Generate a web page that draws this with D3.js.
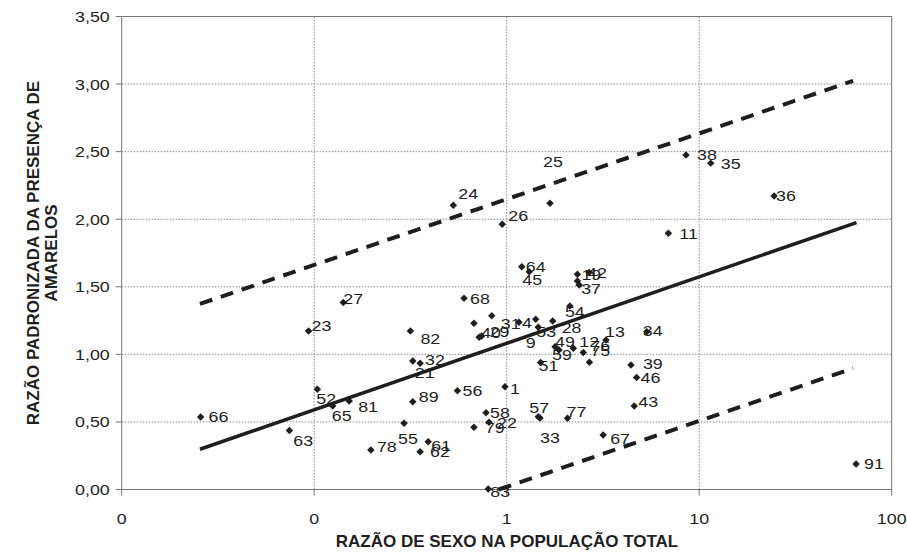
<!DOCTYPE html>
<html>
<head>
<meta charset="utf-8">
<script src="https://cdn.jsdelivr.net/npm/d3@7"></script>
<style>
  html, body { margin: 0; padding: 0; background: #fff; }
  svg { display: block; font-family: "Liberation Sans", Arial, sans-serif; }
</style>
</head>
<body>
<div id="chart"></div>
<script>
// municipality ids (blank = point without a visible label)
const ids = [
  '1', '4', '9', '11', '12', '13', '19', '21', '22', '23',
  '24', '25', '26', '27', '28', '29', '31', '32', '33', '34',
  '35', '36', '37', '38', '39', '40', '42', '43', '45', '46',
  '49', '51', '52', '53', '54', '55', '56', '57', '58', '59',
  '61', '62', '63', '64', '65', '66', '67', '68', '75', '76',
  '77', '78', '79', '81', '82', '83', '89', '91', '', '',
];

// razão de sexo na população total (x, log scale)
const sexRatio = [
  0.979, 1.158, 1.415, 6.91, 2.218, 3.28, 2.33, 0.325, 0.809, 0.0935,
  0.528, 1.679, 0.948, 0.1416, 1.733, 0.741, 0.836, 0.355, 1.489, 5.34,
  11.48, 24.5, 2.38, 8.54, 4.42, 0.719, 2.68, 4.60, 1.31, 4.73,
  1.782, 1.50, 0.1038, 1.459, 2.13, 0.293, 0.555, 1.459, 0.781, 1.87,
  0.391, 0.355, 0.0743, 1.197, 0.1248, 0.0257, 3.17, 0.600, 2.69, 2.50,
  2.07, 0.197, 0.676, 0.152, 0.316, 0.802, 0.325, 65.3, 0.676, 2.33,
];

// razão padronizada da presença de amarelos (y)
const yellowRatio = [
  0.761, 1.238, 1.260, 1.896, 1.045, 1.107, 1.593, 0.951, 0.497, 1.173,
  2.104, 2.118, 1.963, 1.383, 1.247, 1.136, 1.286, 0.934, 0.529, 1.168,
  2.415, 2.172, 1.514, 2.476, 0.922, 1.127, 1.606, 0.618, 1.612, 0.829,
  1.057, 0.940, 0.742, 1.201, 1.358, 0.490, 0.731, 0.539, 0.568, 1.033,
  0.354, 0.280, 0.437, 1.649, 0.618, 0.537, 0.403, 1.415, 0.942, 1.013,
  0.527, 0.292, 0.460, 0.655, 1.173, 0.004, 0.650, 0.189, 1.230, 1.543,
];

// fitted line and band (end points)
const fitX = [0.0255, 65.6];
const fitY = [0.298, 1.975];
const upperX = [0.0255, 63.0];
const upperY = [1.373, 3.024];
const lowerX = [0.91, 63.0];
const lowerY = [0.0, 0.897];

const xTickValues = [0.01, 0.1, 1, 10, 100];
const xTickLabels = ['0', '0', '1', '10', '100'];
const yTickValues = [0, 0.5, 1, 1.5, 2, 2.5, 3, 3.5];

// manual label moves (px), as in the original worksheet
const labelShift = {
  '63': [-4, 10], '23': [-5, -5], '27': [-8, -4], '52': [-9, 9], '65': [-9, 10],
  '81': [1, 6], '78': [-2, -3], '55': [-14, 15], '61': [-5, 4], '62': [2, 0],
  '89': [-2, -5], '82': [2, 8], '32': [-3, -4], '21': [-6, 12], '56': [-3, 0],
  '68': [-2, 0], '40': [-6, -5], '29': [0, -4], '31': [1, 8], '4': [-5, 0],
  '64': [-4, 0], '45': [-15, 8], '9': [-18, 23], '53': [-10, 4], '28': [1, 7],
  '54': [-13, 6], '51': [-10, 3], '49': [-8, -5], '59': [-15, 5], '12': [-2, -7],
  '76': [-1, -7], '75': [-7, -12], '13': [-9, -8], '34': [-12, -1], '19': [-4, 0],
  '42': [-10, 0], '37': [-6, 4], '39': [4, -1], '46': [-4, 0], '43': [-4, -4],
  '57': [-17, -9], '33': [-8, 20], '77': [-9, -7], '67': [-1, 4], '1': [-3, 2],
  '58': [-4, 0], '79': [3, 0], '83': [-6, 3], '24': [-3, -12], '26': [-2, -9],
  '25': [-15, -42], '38': [3, 0], '35': [2, 0], '36': [-6, 0], '11': [3, 0],
};

const width = 907;
const height = 554;
const margin = { top: 16.5, right: 15.3, bottom: 64.5, left: 121.7 };
const stretch = 'scale(1.15,1)';
const ink = '#1e1e1e';

const x = d3.scaleLog()
    .domain([0.01, 100])
    .range([margin.left, width - margin.right]);

const y = d3.scaleLinear()
    .domain([0, 3.5])
    .range([height - margin.bottom, margin.top]);

const svg = d3.select('#chart').append('svg')
    .attr('width', width)
    .attr('height', height);

// grid
svg.append('g')
    .selectAll('line')
    .data(yTickValues.slice(1, -1))
  .enter().append('line')
    .attr('x1', x.range()[0]).attr('x2', x.range()[1])
    .attr('y1', d => y(d)).attr('y2', d => y(d))
    .attr('stroke', '#8a8a8a')
    .attr('stroke-dasharray', '1.5,1.5');

svg.append('g')
    .selectAll('line')
    .data(xTickValues.slice(1, -1))
  .enter().append('line')
    .attr('x1', d => x(d)).attr('x2', d => x(d))
    .attr('y1', y.range()[0]).attr('y2', y.range()[1])
    .attr('stroke', '#8a8a8a')
    .attr('stroke-dasharray', '1.5,1.5');

// frame
svg.append('rect')
    .attr('x', x.range()[0])
    .attr('y', y.range()[1])
    .attr('width', x.range()[1] - x.range()[0])
    .attr('height', y.range()[0] - y.range()[1])
    .attr('fill', 'none')
    .attr('stroke', '#777')
    .attr('stroke-width', 1);

// ticks
const yAxis = svg.append('g');
yAxis.selectAll('line')
    .data(yTickValues)
  .enter().append('line')
    .attr('x1', x.range()[0] - 6).attr('x2', x.range()[0])
    .attr('y1', d => y(d)).attr('y2', d => y(d))
    .attr('stroke', '#777');

const fmtY = d => d3.format('.2f')(d).replace('.', ',');
yAxis.selectAll('g.lab')
    .data(yTickValues)
  .enter().append('g')
    .attr('class', 'lab')
    .attr('transform', d => `translate(${x.range()[0] - 12},${y(d)}) ${stretch}`)
  .append('text')
    .attr('text-anchor', 'end')
    .attr('dy', '0.35em')
    .attr('font-size', 15.5)
    .attr('fill', ink)
    .text(fmtY);

const xAxis = svg.append('g');
xAxis.selectAll('line')
    .data(xTickValues)
  .enter().append('line')
    .attr('x1', d => x(d)).attr('x2', d => x(d))
    .attr('y1', y.range()[0]).attr('y2', y.range()[0] + 6)
    .attr('stroke', '#777');

xAxis.selectAll('g.lab')
    .data(xTickValues)
  .enter().append('g')
    .attr('class', 'lab')
    .attr('transform', d => `translate(${x(d)},${y.range()[0] + 29}) ${stretch}`)
  .append('text')
    .attr('text-anchor', 'middle')
    .attr('dy', '0.35em')
    .attr('font-size', 15.5)
    .attr('fill', ink)
    .text((d, i) => xTickLabels[i]);

// axis titles
svg.append('text')
    .attr('x', 507)
    .attr('y', height - 13)
    .attr('text-anchor', 'middle')
    .attr('dy', '0.35em')
    .attr('font-size', 17)
    .attr('font-weight', 'bold')
    .attr('fill', ink)
    .text('RAZÃO DE SEXO NA POPULAÇÃO TOTAL');

const yTitle = svg.append('g')
    .attr('transform', `translate(41,${(y.range()[0] + y.range()[1]) / 2}) rotate(-90)`)
  .append('text')
    .attr('text-anchor', 'middle')
    .attr('font-size', 17)
    .attr('font-weight', 'bold')
    .attr('fill', ink);
yTitle.append('tspan').attr('x', 0).attr('y', -2).text('RAZÃO PADRONIZADA DA PRESENÇA DE');
yTitle.append('tspan').attr('x', 0).attr('y', 16).text('AMARELOS');

// fitted line and prediction band
const line = d3.line()
    .x(d => x(d[0]))
    .y(d => y(d[1]));

svg.append('path')
    .datum(d3.zip(fitX, fitY))
    .attr('d', line)
    .attr('fill', 'none')
    .attr('stroke', ink)
    .attr('stroke-width', 3.5);

[[upperX, upperY], [lowerX, lowerY]].forEach(([xs, ys]) => {
  svg.append('path')
      .datum(d3.zip(xs, ys))
      .attr('d', line)
      .attr('fill', 'none')
      .attr('stroke', ink)
      .attr('stroke-width', 4)
      .attr('stroke-dasharray', '13,9');
});

// points
const points = ids.map((id, i) => ({ id, sx: sexRatio[i], yr: yellowRatio[i] }));

svg.append('g')
    .selectAll('path')
    .data(points)
  .enter().append('path')
    .attr('d', d3.symbol(d3.symbolSquare, 28))
    .attr('transform', d => `translate(${x(d.sx)},${y(d.yr)}) rotate(45)`)
    .attr('fill', ink);

svg.append('g')
    .selectAll('g')
    .data(points.filter(d => d.id))
  .enter().append('g')
    .attr('transform', d => {
      const s = labelShift[d.id] || [0, 0];
      return `translate(${x(d.sx) + 8 + s[0]},${y(d.yr) + s[1]}) ${stretch}`;
    })
  .append('text')
    .attr('dy', '0.35em')
    .attr('font-size', 15.5)
    .attr('fill', ink)
    .text(d => d.id);
</script>
</body>
</html>
